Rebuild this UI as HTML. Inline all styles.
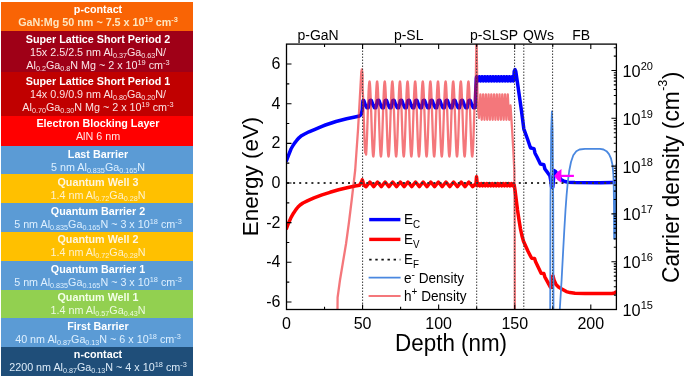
<!DOCTYPE html>
<html><head><meta charset="utf-8"><style>
*{margin:0;padding:0;box-sizing:border-box}
html,body{width:685px;height:378px;overflow:hidden;background:#fff}
body{position:relative;-webkit-font-smoothing:antialiased;font-family:"Liberation Sans",sans-serif}
.blk{position:absolute;left:1px;width:192px}
.ln{position:absolute;left:2px;will-change:transform;width:192px;text-align:center;font-size:10.75px;line-height:12px;white-space:nowrap}
.ln.b{font-weight:bold}
.sb{font-size:7.2px;vertical-align:-2.3px;line-height:0}
.sp{font-size:7.4px;vertical-align:4.2px;line-height:0}
.chart{position:absolute;left:0;top:0;will-change:transform}
.chart text{font-family:"Liberation Sans",sans-serif;fill:#000}
.tl{font-size:16px}
.rl{font-size:16.3px}
.sup{font-size:11px}
.top{font-size:14px}
.ax{font-size:22.4px}
.axs{font-size:12.5px}
.lg{font-size:13.6px}
.lsub{font-size:9.8px}
.lsup{font-size:10px}
</style></head><body>
<div class="blk" style="top:2px;height:28.5px;background:#f96405"></div>
<div class="blk" style="top:30.5px;height:41.5px;background:#9f0017"></div>
<div class="blk" style="top:72px;height:43.5px;background:#c00000"></div>
<div class="blk" style="top:115.5px;height:30px;background:#ff0000"></div>
<div class="blk" style="top:145.5px;height:28.5px;background:#5b9bd5"></div>
<div class="blk" style="top:174px;height:29px;background:#ffc000"></div>
<div class="blk" style="top:203px;height:29px;background:#5b9bd5"></div>
<div class="blk" style="top:232px;height:29px;background:#ffc000"></div>
<div class="blk" style="top:261px;height:29px;background:#5b9bd5"></div>
<div class="blk" style="top:290px;height:28px;background:#92d050"></div>
<div class="blk" style="top:318px;height:29px;background:#5b9bd5"></div>
<div class="blk" style="top:347px;height:29px;background:#1f4e79"></div>
<div class="ln b" style="top:3.38px;color:#ffffff">p-contact</div>
<div class="ln b" style="top:15.88px;color:#fde6c0">GaN:Mg 50 nm ~ 7.5 x 10<span class="sp">19</span> cm<span class="sp">-3</span></div>
<div class="ln b" style="top:33.08px;color:#ffffff">Super Lattice Short Period 2</div>
<div class="ln" style="top:46.08px;color:#fbe5e8">15x 2.5/2.5 nm Al<span class="sb">0.37</span>Ga<span class="sb">0.63</span>N/</div>
<div class="ln" style="top:58.58px;color:#fbe5e8">Al<span class="sb">0.2</span>Ga<span class="sb">0.8</span>N Mg ~ 2 x 10<span class="sp">19</span> cm<span class="sp">-3</span></div>
<div class="ln b" style="top:75.08px;color:#ffffff">Super Lattice Short Period 1</div>
<div class="ln" style="top:87.98px;color:#fbe1e1">14x 0.9/0.9 nm Al<span class="sb">0.80</span>Ga<span class="sb">0.20</span>N/</div>
<div class="ln" style="top:100.98px;color:#fbe1e1">Al<span class="sb">0.70</span>Ga<span class="sb">0.30</span>N Mg ~ 2 x 10<span class="sp">19</span> cm<span class="sp">-3</span></div>
<div class="ln b" style="top:117.28px;color:#ffffff">Electron Blocking Layer</div>
<div class="ln" style="top:130.18px;color:#ffe6e6">AlN 6 nm</div>
<div class="ln b" style="top:147.68px;color:#ffffff">Last Barrier</div>
<div class="ln" style="top:160.78px;color:#def0ff">5 nm Al<span class="sb">0.835</span>Ga<span class="sb">0.165</span>N</div>
<div class="ln b" style="top:176.18px;color:#fff6e0">Quantum Well 3</div>
<div class="ln" style="top:189.28px;color:#fff2cc">1.4 nm Al<span class="sb">0.72</span>Ga<span class="sb">0.28</span>N</div>
<div class="ln b" style="top:204.68px;color:#ffffff">Quantum Barrier 2</div>
<div class="ln" style="top:217.78px;color:#def0ff">5 nm Al<span class="sb">0.835</span>Ga<span class="sb">0.165</span>N ~ 3 x 10<span class="sp">18</span> cm<span class="sp">-3</span></div>
<div class="ln b" style="top:233.18px;color:#fff6e0">Quantum Well 2</div>
<div class="ln" style="top:246.28px;color:#fff2cc">1.4 nm Al<span class="sb">0.72</span>Ga<span class="sb">0.28</span>N</div>
<div class="ln b" style="top:262.68px;color:#ffffff">Quantum Barrier 1</div>
<div class="ln" style="top:275.78px;color:#def0ff">5 nm Al<span class="sb">0.835</span>Ga<span class="sb">0.165</span>N ~ 3 x 10<span class="sp">18</span> cm<span class="sp">-3</span></div>
<div class="ln b" style="top:290.78px;color:#f4ffe8">Quantum Well 1</div>
<div class="ln" style="top:303.98px;color:#eefae0">1.4 nm Al<span class="sb">0.57</span>Ga<span class="sb">0.43</span>N</div>
<div class="ln b" style="top:320.08px;color:#ffffff">First Barrier</div>
<div class="ln" style="top:332.58px;color:#def0ff">40 nm Al<span class="sb">0.87</span>Ga<span class="sb">0.13</span>N ~ 6 x 10<span class="sp">18</span> cm<span class="sp">-3</span></div>
<div class="ln b" style="top:347.98px;color:#ffffff">n-contact</div>
<div class="ln" style="top:361.08px;color:#dcebf8">2200 nm Al<span class="sb">0.87</span>Ga<span class="sb">0.13</span>N ~ 4 x 10<span class="sp">18</span> cm<span class="sp">-3</span></div>
<svg class="chart" width="685" height="378" viewBox="0 0 685 378">
<defs><clipPath id="pc"><rect x="286.5" y="44.1" width="129.9" height="265.4" transform="translate(0,0)"/></clipPath></defs>
<defs><clipPath id="pa"><rect x="286.5" y="44.1" width="330" height="265.4"/></clipPath></defs>
<g clip-path="url(#pa)" fill="none" stroke-linejoin="round" stroke-linecap="round">
<path d="M286.5 160.5 L288.5 155.3 L291 149 L293 145.5 L295 142.6 L297 140 L299 137.8 L301.5 135.7 L304.2 134.2 L309 131.8 L315 129.3 L322 126.3 L325.4 125 L336 121.5 L346.6 118.8 L355 117 L359.5 116 L361.2 114.4 L362.2 110 L362.6 104 L363 100.5 L363.8 100.5 L365.32 104.8 L366.84 107.8 L367.83 107.8 L368.21 107.8 L369.88 100.5 L370.49 100.2 L371.4 100.5 L372.92 104.8 L374.45 107.8 L375.43 107.8 L375.81 107.8 L377.49 100.5 L378.1 100.2 L379.01 100.5 L380.53 104.8 L382.05 107.8 L383.04 107.8 L383.42 107.8 L385.1 100.5 L385.7 100.2 L386.62 100.5 L388.14 104.8 L389.66 107.8 L390.65 107.8 L391.03 107.8 L392.7 100.5 L393.31 100.2 L394.23 100.5 L395.75 104.8 L397.27 107.8 L398.26 107.8 L398.64 107.8 L400.31 100.5 L400.92 100.2 L401.83 100.5 L403.35 104.8 L404.88 107.8 L405.86 107.8 L406.24 107.8 L407.92 100.5 L408.53 100.2 L409.44 100.5 L410.96 104.8 L412.48 107.8 L413.47 107.8 L413.85 107.8 L415.53 100.5 L416.13 100.2 L417.05 100.5 L418.57 104.8 L420.09 107.8 L421.08 107.8 L421.46 107.8 L423.13 100.5 L423.74 100.2 L424.66 100.5 L426.18 104.8 L427.7 107.8 L428.69 107.8 L429.07 107.8 L430.74 100.5 L431.35 100.2 L432.26 100.5 L433.78 104.8 L435.31 107.8 L436.29 107.8 L436.67 107.8 L438.35 100.5 L438.96 100.2 L439.87 100.5 L441.39 104.8 L442.91 107.8 L443.9 107.8 L444.28 107.8 L445.96 100.5 L446.56 100.2 L447.48 100.5 L449 104.8 L450.52 107.8 L451.51 107.8 L451.89 107.8 L453.56 100.5 L454.17 100.2 L455.09 100.5 L456.61 104.8 L458.13 107.8 L459.12 107.8 L459.5 107.8 L461.17 100.5 L461.78 100.2 L462.69 100.5 L464.21 104.8 L465.74 107.8 L466.72 107.8 L467.1 107.8 L468.78 100.5 L469.39 100.2 L470.3 100.5 L471.82 104.8 L473.34 107.8 L474.33 107.8 L474.71 107.8 L475.4 106 L475.7 92 L476.3 78.8 L476.6 76.7 L477.97 80.9 L479.34 76.7 L480.71 80.9 L482.08 76.7 L483.45 80.9 L484.82 76.7 L486.19 80.9 L487.55 76.7 L488.92 80.9 L490.29 76.7 L491.66 80.9 L493.03 76.7 L494.4 80.9 L495.77 76.7 L497.14 80.9 L498.51 76.7 L499.88 80.9 L501.25 76.7 L502.62 80.9 L503.99 76.7 L505.36 80.9 L506.73 76.7 L508.1 80.9 L509.46 76.7 L510.83 80.9 L512.2 76.7 L513.57 80.9 L513.8 78.5 L514.2 71.5 L515 69.6 L515.8 71.5 L517.5 83 L519.5 97 L521.5 111 L523.2 124 L523.8 128.8 L524.5 130.8 L527.5 139 L530.2 147 L530.8 148 L534 148.6 L535 153.2 L537 157 L539.8 162.8 L540.5 164 L543.9 164.8 L544.9 169 L547.5 172.4 L549.9 175.8 L550.8 181 L551.6 187.2 L552.8 187.2 L553.6 178 L554.2 170.6 L555.5 171.5 L558 175.5 L561 179.4 L564 181.2 L568 182.2 L575 182.6 L600 182.7 L612 182.6 L614.5 182 L616 180.5" stroke="#0000ff" stroke-width="3.5"/>
<path d="M286.5 228.3 L288.5 223.2 L291.1 217.4 L293.5 213.2 L295.9 209.6 L298 207 L300.1 205 L303 203 L307.8 200.6 L314 197.9 L322 194.9 L330 192.3 L338.6 189.8 L347 187.7 L355 186 L359.5 185.2 L361.5 182 L362.3 179.8 L363.2 182.5 L364.3 185.5 L366.1 186.7 L369.91 182 L373.71 186.7 L377.52 182 L381.32 186.7 L385.12 182 L388.93 186.7 L392.73 182 L396.53 186.7 L400.34 182 L404.14 186.7 L407.95 182 L411.75 186.7 L415.55 182 L419.36 186.7 L423.16 182 L426.96 186.7 L430.77 182 L434.57 186.7 L438.38 182 L442.18 186.7 L445.98 182 L449.79 186.7 L453.59 182 L457.39 186.7 L461.2 182 L465 186.7 L468.81 182 L472.61 186.7 L476 183.5 L476.5 176.8 L477.2 183.5 L477.2 185.8 L478.57 183.6 L479.94 185.8 L481.31 183.6 L482.68 185.8 L484.05 183.6 L485.42 185.8 L486.79 183.6 L488.15 185.8 L489.52 183.6 L490.89 185.8 L492.26 183.6 L493.63 185.8 L495 183.6 L496.37 185.8 L497.74 183.6 L499.11 185.8 L500.48 183.6 L501.85 185.8 L503.22 183.6 L504.59 185.8 L505.96 183.6 L507.33 185.8 L508.7 183.6 L510.06 185.8 L511.43 183.6 L512.8 185.8 L514.3 185.4 L515 190 L516 198 L517.5 210 L519 220 L520.5 229 L522 236 L523.5 241.2 L525.5 245.8 L528 251.3 L531.1 257.3 L531.8 258.2 L534.6 258.6 L535.5 261.5 L540.4 271.8 L541.1 273.2 L543.9 273.6 L544.8 276.8 L550.4 287.2 L551.2 287.4 L552 277 L553 275.8 L554 280 L556 284.5 L558.5 287 L561.4 288.8 L566.3 291.6 L570 292.6 L575 293.3 L585 293.6 L600 293.6 L612 293.4 L614.5 293 L616 292" stroke="#ff0000" stroke-width="3.5"/>
<line x1="286.5" y1="183" x2="616.4" y2="183" stroke="#333" stroke-width="2" stroke-dasharray="2 4.1" stroke-dashoffset="-0.5" stroke-linecap="butt"/>
<path d="M550.2 309.5 L550.5 200 L551.2 130 L551.9 111.5 L552.6 130 L553.2 200 L553.5 309.5" stroke="#4a88e0" stroke-width="1.8"/>
<path d="M559.8 309.5 L561.6 280 L563.2 250 L564.3 230 L565.5 210 L566.6 195 L567.8 182 L569.2 171 L571 162 L573.3 155.3 L576.3 151.3 L579.5 149.5 L585 148.9 L600 148.9 L603.5 149.5 L606.5 151.2 L609 154.2 L611 158.5 L612.5 165 L613.4 175 L613.8 190 L614 210 L614.1 238.5 L614.8 238.5 L615.3 220 L615.7 200 L616 180 L616.2 165" stroke="#4a88e0" stroke-width="1.8"/>
<path d="M337.5 309.5 L337.6 297.5 L340 280 L343 262 L346 244 L349 222 L351.7 200 L355.2 170 L358 130 L360 95 L361.3 72 L361.9 69.3 L362.6 75 L362.6 87.59 L362.92 93.97 L363.23 102.05 L363.55 111.28 L363.87 121.04 L364.18 130.67 L364.5 139.49 L364.82 146.92 L365.14 152.45 L365.45 153 L365.77 153 L366.09 154.64 L366.4 150.41 L366.72 144.03 L367.04 135.95 L367.35 126.72 L367.67 116.96 L367.99 107.33 L368.31 98.51 L368.62 91.08 L368.94 85.55 L369.26 82.3 L369.57 81.56 L369.89 83.36 L370.21 87.59 L370.52 93.97 L370.84 102.05 L371.16 111.28 L371.48 121.04 L371.79 130.67 L372.11 139.49 L372.43 146.92 L372.74 152.45 L373.06 155.7 L373.38 156.44 L373.69 154.64 L374.01 150.41 L374.33 144.03 L374.65 135.95 L374.96 126.72 L375.28 116.96 L375.6 107.33 L375.91 98.51 L376.23 91.08 L376.55 85.55 L376.86 82.3 L377.18 81.56 L377.5 83.36 L377.82 87.59 L378.13 93.97 L378.45 102.05 L378.77 111.28 L379.08 121.04 L379.4 130.67 L379.72 139.49 L380.03 146.92 L380.35 152.45 L380.67 155.7 L380.98 156.44 L381.3 154.64 L381.62 150.41 L381.94 144.03 L382.25 135.95 L382.57 126.72 L382.89 116.96 L383.2 107.33 L383.52 98.51 L383.84 91.08 L384.15 85.55 L384.47 82.3 L384.79 81.56 L385.11 83.36 L385.42 87.59 L385.74 93.97 L386.06 102.05 L386.37 111.28 L386.69 121.04 L387.01 130.67 L387.32 139.49 L387.64 146.92 L387.96 152.45 L388.28 155.7 L388.59 156.44 L388.91 154.64 L389.23 150.41 L389.54 144.03 L389.86 135.95 L390.18 126.72 L390.49 116.96 L390.81 107.33 L391.13 98.51 L391.45 91.08 L391.76 85.55 L392.08 82.3 L392.4 81.56 L392.71 83.36 L393.03 87.59 L393.35 93.97 L393.66 102.05 L393.98 111.28 L394.3 121.04 L394.61 130.67 L394.93 139.49 L395.25 146.92 L395.57 152.45 L395.88 155.7 L396.2 156.44 L396.52 154.64 L396.83 150.41 L397.15 144.03 L397.47 135.95 L397.78 126.72 L398.1 116.96 L398.42 107.33 L398.74 98.51 L399.05 91.08 L399.37 85.55 L399.69 82.3 L400 81.56 L400.32 83.36 L400.64 87.59 L400.95 93.97 L401.27 102.05 L401.59 111.28 L401.91 121.04 L402.22 130.67 L402.54 139.49 L402.86 146.92 L403.17 152.45 L403.49 155.7 L403.81 156.44 L404.12 154.64 L404.44 150.41 L404.76 144.03 L405.08 135.95 L405.39 126.72 L405.71 116.96 L406.03 107.33 L406.34 98.51 L406.66 91.08 L406.98 85.55 L407.29 82.3 L407.61 81.56 L407.93 83.36 L408.25 87.59 L408.56 93.97 L408.88 102.05 L409.2 111.28 L409.51 121.04 L409.83 130.67 L410.15 139.49 L410.46 146.92 L410.78 152.45 L411.1 155.7 L411.41 156.44 L411.73 154.64 L412.05 150.41 L412.37 144.03 L412.68 135.95 L413 126.72 L413.32 116.96 L413.63 107.33 L413.95 98.51 L414.27 91.08 L414.58 85.55 L414.9 82.3 L415.22 81.56 L415.54 83.36 L415.85 87.59 L416.17 93.97 L416.49 102.05 L416.8 111.28 L417.12 121.04 L417.44 130.67 L417.75 139.49 L418.07 146.92 L418.39 152.45 L418.71 155.7 L419.02 156.44 L419.34 154.64 L419.66 150.41 L419.97 144.03 L420.29 135.95 L420.61 126.72 L420.92 116.96 L421.24 107.33 L421.56 98.51 L421.88 91.08 L422.19 85.55 L422.51 82.3 L422.83 81.56 L423.14 83.36 L423.46 87.59 L423.78 93.97 L424.09 102.05 L424.41 111.28 L424.73 121.04 L425.04 130.67 L425.36 139.49 L425.68 146.92 L426 152.45 L426.31 155.7 L426.63 156.44 L426.95 154.64 L427.26 150.41 L427.58 144.03 L427.9 135.95 L428.21 126.72 L428.53 116.96 L428.85 107.33 L429.17 98.51 L429.48 91.08 L429.8 85.55 L430.12 82.3 L430.43 81.56 L430.75 83.36 L431.07 87.59 L431.38 93.97 L431.7 102.05 L432.02 111.28 L432.34 121.04 L432.65 130.67 L432.97 139.49 L433.29 146.92 L433.6 152.45 L433.92 155.7 L434.24 156.44 L434.55 154.64 L434.87 150.41 L435.19 144.03 L435.51 135.95 L435.82 126.72 L436.14 116.96 L436.46 107.33 L436.77 98.51 L437.09 91.08 L437.41 85.55 L437.72 82.3 L438.04 81.56 L438.36 83.36 L438.68 87.59 L438.99 93.97 L439.31 102.05 L439.63 111.28 L439.94 121.04 L440.26 130.67 L440.58 139.49 L440.89 146.92 L441.21 152.45 L441.53 155.7 L441.84 156.44 L442.16 154.64 L442.48 150.41 L442.8 144.03 L443.11 135.95 L443.43 126.72 L443.75 116.96 L444.06 107.33 L444.38 98.51 L444.7 91.08 L445.01 85.55 L445.33 82.3 L445.65 81.56 L445.97 83.36 L446.28 87.59 L446.6 93.97 L446.92 102.05 L447.23 111.28 L447.55 121.04 L447.87 130.67 L448.18 139.49 L448.5 146.92 L448.82 152.45 L449.14 155.7 L449.45 156.44 L449.77 154.64 L450.09 150.41 L450.4 144.03 L450.72 135.95 L451.04 126.72 L451.35 116.96 L451.67 107.33 L451.99 98.51 L452.31 91.08 L452.62 85.55 L452.94 82.3 L453.26 81.56 L453.57 83.36 L453.89 87.59 L454.21 93.97 L454.52 102.05 L454.84 111.28 L455.16 121.04 L455.47 130.67 L455.79 139.49 L456.11 146.92 L456.43 152.45 L456.74 155.7 L457.06 156.44 L457.38 154.64 L457.69 150.41 L458.01 144.03 L458.33 135.95 L458.64 126.72 L458.96 116.96 L459.28 107.33 L459.6 98.51 L459.91 91.08 L460.23 85.55 L460.55 82.3 L460.86 81.56 L461.18 83.36 L461.5 87.59 L461.81 93.97 L462.13 102.05 L462.45 111.28 L462.77 121.04 L463.08 130.67 L463.4 139.49 L463.72 146.92 L464.03 152.45 L464.35 155.7 L464.67 156.44 L464.98 154.64 L465.3 150.41 L465.62 144.03 L465.94 135.95 L466.25 126.72 L466.57 116.96 L466.89 107.33 L467.2 98.51 L467.52 91.08 L467.84 85.55 L468.15 82.3 L468.47 81.56 L468.79 83.36 L469.11 87.59 L469.42 93.97 L469.74 102.05 L470.06 111.28 L470.37 121.04 L470.69 130.67 L471.01 139.49 L471.32 146.92 L471.64 152.45 L471.96 155.7 L472.27 156.44 L472.59 154.64 L472.91 150.41 L473.23 144.03 L473.54 135.95 L473.86 126.72 L474.18 116.96 L474.49 107.33 L474.81 98.51 L475.13 91.08 L475.44 85.55 L475.76 82.3 L476.5 36 L477.6 104.5 L479 118 L480.37 94.3 L481.74 119.8 L483.11 94.3 L484.48 119.8 L485.85 94.3 L487.22 119.8 L488.59 94.3 L489.95 119.8 L491.32 94.3 L492.69 119.8 L494.06 94.3 L495.43 119.8 L496.8 94.3 L498.17 119.8 L499.54 94.3 L500.91 119.8 L502.28 94.3 L503.65 119.8 L505.02 94.3 L506.39 119.8 L507.76 94.3 L509.13 119.8 L510.5 105.5 L512 128 L513.2 148 L514.3 170 L514.7 220 L514.8 309.5" stroke="rgba(236,20,28,0.58)" stroke-width="2.3"/>
<line x1="362.6" y1="44.5" x2="362.6" y2="309.5" stroke="#3a3a3a" stroke-width="1" stroke-dasharray="1.5 1.5" stroke-linecap="butt"/>
<line x1="476.7" y1="44.5" x2="476.7" y2="309.5" stroke="#3a3a3a" stroke-width="1" stroke-dasharray="1.5 1.5" stroke-linecap="butt"/>
<line x1="514.6" y1="44.5" x2="514.6" y2="309.5" stroke="#3a3a3a" stroke-width="1" stroke-dasharray="1.5 1.5" stroke-linecap="butt"/>
<line x1="523.8" y1="44.5" x2="523.8" y2="309.5" stroke="#3a3a3a" stroke-width="1" stroke-dasharray="1.5 1.5" stroke-linecap="butt"/>
<line x1="552.6" y1="44.5" x2="552.6" y2="309.5" stroke="#3a3a3a" stroke-width="1" stroke-dasharray="1.5 1.5" stroke-linecap="butt"/>
</g>
<path d="M573.9 175.9 L560 175.9" stroke="#ff00ff" stroke-width="2.2" fill="none"/>
<path d="M554.2 175.9 Q557 171.5 561.5 169 L561.2 182.8 Q557 180.3 554.2 175.9 Z" fill="#ff00ff"/>
<rect x="286.5" y="44.1" width="329.9" height="265.4" fill="none" stroke="#000" stroke-width="1.3"/>
<path d="M286.5 301.98 h5 M286.5 282.15 h2.8 M286.5 262.32 h5 M286.5 242.49 h2.8 M286.5 222.66 h5 M286.5 202.83 h2.8 M286.5 183 h5 M286.5 163.17 h2.8 M286.5 143.34 h5 M286.5 123.51 h2.8 M286.5 103.68 h5 M286.5 83.85 h2.8 M286.5 64.02 h5 M324.54 309.5 v-2.8 M324.54 44.1 v2.8 M362.57 309.5 v-5 M362.57 44.1 v5 M400.61 309.5 v-2.8 M400.61 44.1 v2.8 M438.65 309.5 v-5 M438.65 44.1 v5 M476.69 309.5 v-2.8 M476.69 44.1 v2.8 M514.73 309.5 v-5 M514.73 44.1 v5 M552.76 309.5 v-2.8 M552.76 44.1 v2.8 M590.8 309.5 v-5 M590.8 44.1 v5 M616.4 295.11 h-2.6 M616.4 286.69 h-2.6 M616.4 280.72 h-2.6 M616.4 276.09 h-2.6 M616.4 272.3 h-2.6 M616.4 269.1 h-2.6 M616.4 266.33 h-2.6 M616.4 263.89 h-2.6 M616.4 261.7 h-5 M616.4 247.31 h-2.6 M616.4 238.89 h-2.6 M616.4 232.92 h-2.6 M616.4 228.29 h-2.6 M616.4 224.5 h-2.6 M616.4 221.3 h-2.6 M616.4 218.53 h-2.6 M616.4 216.09 h-2.6 M616.4 213.9 h-5 M616.4 199.51 h-2.6 M616.4 191.09 h-2.6 M616.4 185.12 h-2.6 M616.4 180.49 h-2.6 M616.4 176.7 h-2.6 M616.4 173.5 h-2.6 M616.4 170.73 h-2.6 M616.4 168.29 h-2.6 M616.4 166.1 h-5 M616.4 151.71 h-2.6 M616.4 143.29 h-2.6 M616.4 137.32 h-2.6 M616.4 132.69 h-2.6 M616.4 128.9 h-2.6 M616.4 125.7 h-2.6 M616.4 122.93 h-2.6 M616.4 120.49 h-2.6 M616.4 118.3 h-5 M616.4 103.91 h-2.6 M616.4 95.49 h-2.6 M616.4 89.52 h-2.6 M616.4 84.89 h-2.6 M616.4 81.1 h-2.6 M616.4 77.9 h-2.6 M616.4 75.13 h-2.6 M616.4 72.69 h-2.6 M616.4 70.5 h-5 M616.4 56.11 h-2.6 M616.4 47.69 h-2.6 M616.4 56.11 h-2.6 M616.4 47.69 h-2.6" stroke="#000" stroke-width="1.1" fill="none"/>
<text x="280.5" y="306.88" text-anchor="end" class="tl">-6</text>
<text x="280.5" y="267.22" text-anchor="end" class="tl">-4</text>
<text x="280.5" y="227.56" text-anchor="end" class="tl">-2</text>
<text x="280.5" y="187.9" text-anchor="end" class="tl">0</text>
<text x="280.5" y="148.24" text-anchor="end" class="tl">2</text>
<text x="280.5" y="108.58" text-anchor="end" class="tl">4</text>
<text x="280.5" y="68.92" text-anchor="end" class="tl">6</text>
<text x="286.5" y="328.5" text-anchor="middle" class="tl">0</text>
<text x="362.57" y="328.5" text-anchor="middle" class="tl">50</text>
<text x="438.65" y="328.5" text-anchor="middle" class="tl">100</text>
<text x="514.73" y="328.5" text-anchor="middle" class="tl">150</text>
<text x="590.8" y="328.5" text-anchor="middle" class="tl">200</text>
<text x="622.5" y="316" class="rl">10<tspan class="sup" dy="-7.0">15</tspan></text>
<text x="622.5" y="268.2" class="rl">10<tspan class="sup" dy="-7.0">16</tspan></text>
<text x="622.5" y="220.4" class="rl">10<tspan class="sup" dy="-7.0">17</tspan></text>
<text x="622.5" y="172.6" class="rl">10<tspan class="sup" dy="-7.0">18</tspan></text>
<text x="622.5" y="124.8" class="rl">10<tspan class="sup" dy="-7.0">19</tspan></text>
<text x="622.5" y="77" class="rl">10<tspan class="sup" dy="-7.0">20</tspan></text>
<text transform="translate(297.5 40.2) scale(1 1.04)" class="top">p-GaN</text>
<text transform="translate(393.9 40.2) scale(1 1.04)" class="top">p-SL</text>
<text transform="translate(469.9 40.2) scale(1 1.04)" class="top">p-SLSP</text>
<text transform="translate(522.9 40.2) scale(1 1.04)" class="top">QWs</text>
<text transform="translate(572.3 40.2) scale(1 1.04)" class="top">FB</text>
<text transform="translate(395.1 350.7) scale(1 1.08)" class="ax">Depth (nm)</text>
<text transform="translate(258.3 236.2) rotate(-90)" class="ax">Energy (eV)</text>
<text transform="translate(679.4 283.0) rotate(-90) scale(1 1.07)" class="ax" style="font-size:22.7px">Carrier density (cm<tspan class="axs" dy="-11.5" dx="0.5">-3</tspan><tspan dy="11.5" dx="0.5">)</tspan></text>
<line x1="369.2" y1="219.6" x2="400.4" y2="219.6" stroke="#0000ff" stroke-width="3.4"/>
<text transform="translate(404 224.3) scale(1 1.1)" class="lg">E<tspan class="lsub" dy="3.4">C</tspan></text>
<line x1="369.2" y1="239.4" x2="400.4" y2="239.4" stroke="#ff0000" stroke-width="3.4"/>
<text transform="translate(404 243.9) scale(1 1.1)" class="lg">E<tspan class="lsub" dy="3.4">V</tspan></text>
<line x1="369.2" y1="259.7" x2="400.4" y2="259.7" stroke="#111" stroke-width="1.8" stroke-dasharray="2.4 3.7"/>
<text transform="translate(404 263.8) scale(1 1.1)" class="lg">E<tspan class="lsub" dy="3.4">F</tspan></text>
<line x1="368.6" y1="277.6" x2="400.6" y2="277.6" stroke="#4a88e0" stroke-width="1.8"/>
<text transform="translate(404 283) scale(1 1.1)" class="lg">e<tspan class="lsup" dy="-5">-</tspan><tspan dy="5"> Density</tspan></text>
<line x1="368.6" y1="296" x2="400.6" y2="296" stroke="rgba(236,20,28,0.58)" stroke-width="2"/>
<text transform="translate(404 300.9) scale(1 1.1)" class="lg">h<tspan class="lsup" dy="-5">+</tspan><tspan dy="5"> Density</tspan></text>
</svg>
</body></html>
